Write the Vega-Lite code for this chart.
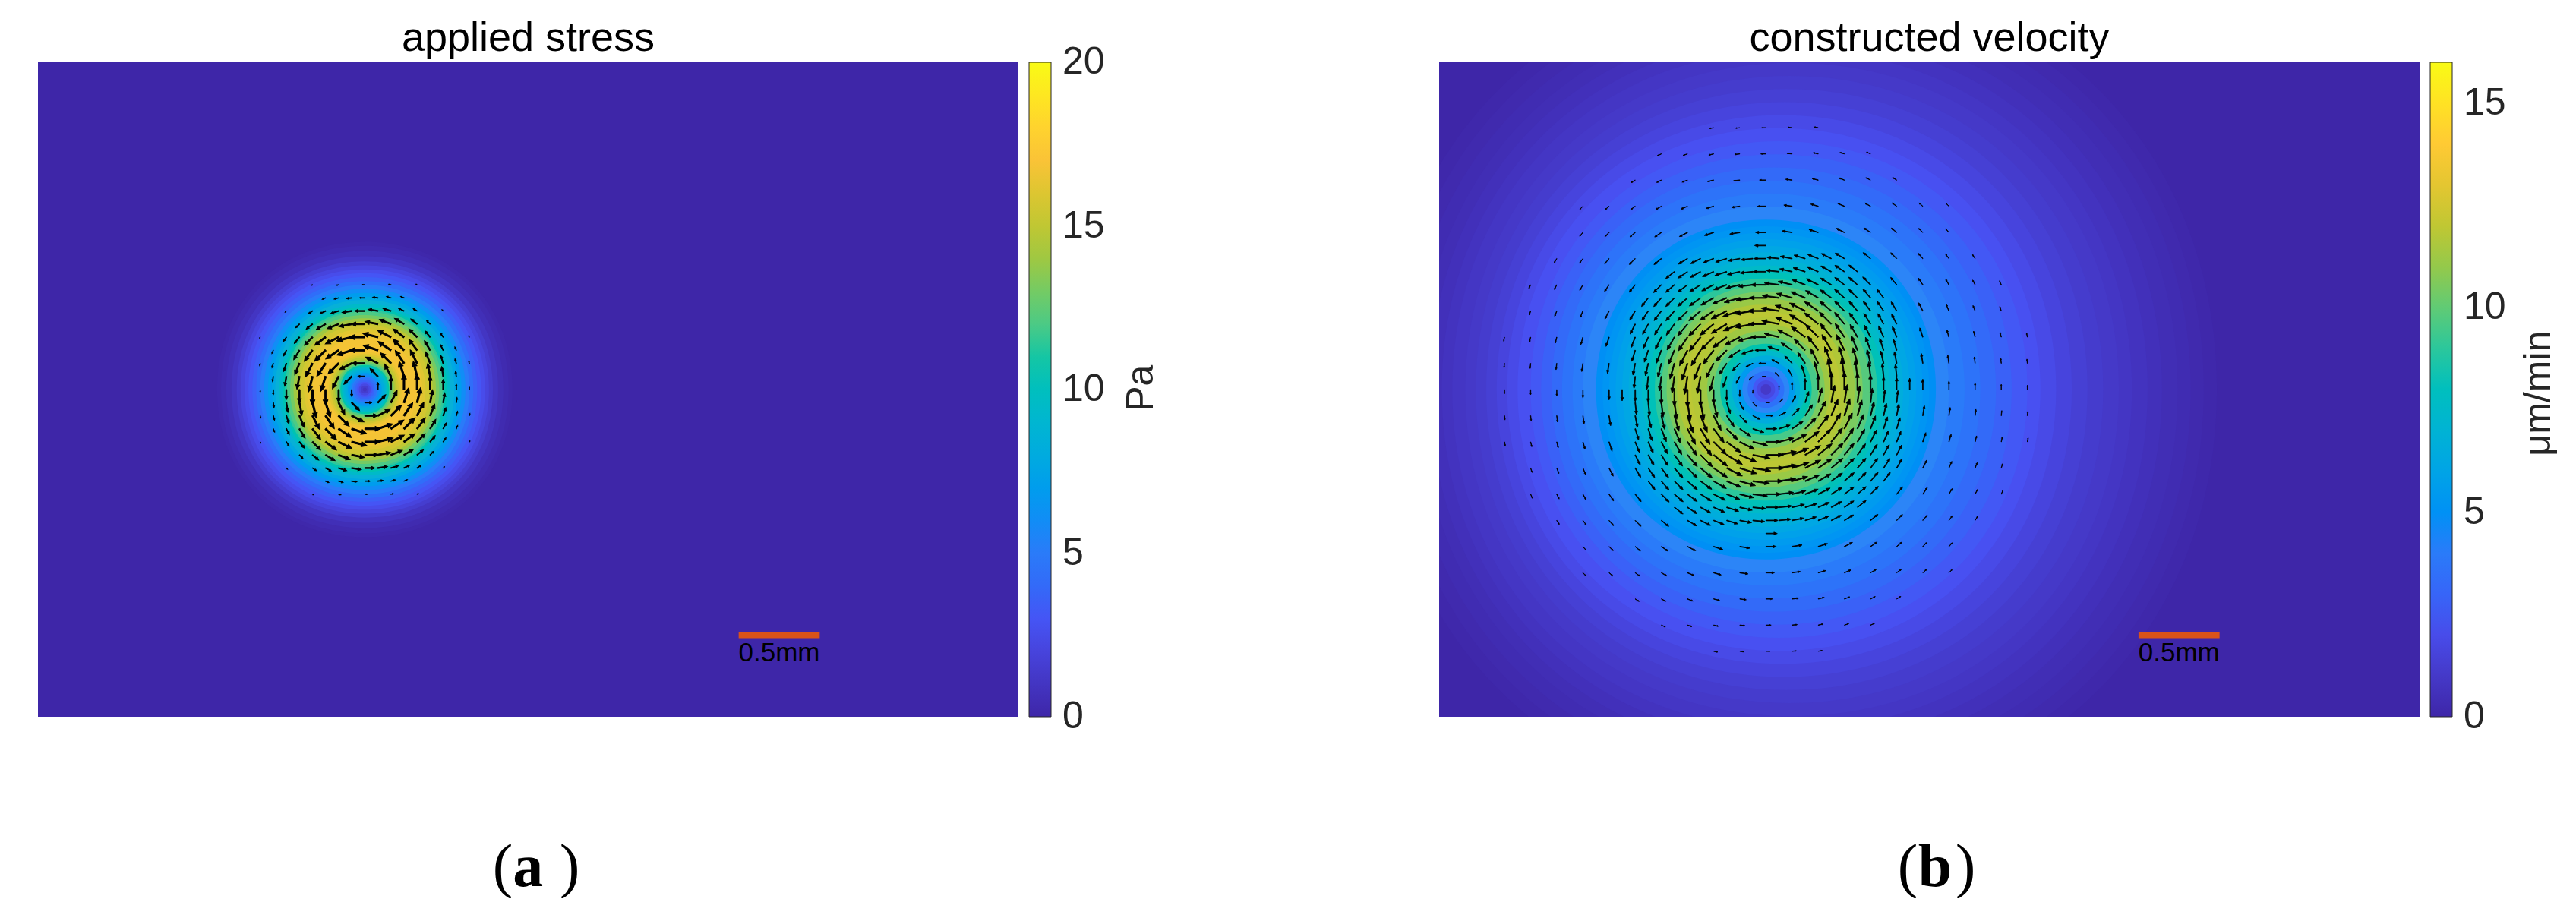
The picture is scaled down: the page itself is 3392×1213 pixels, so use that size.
{"$schema":"https://vega.github.io/schema/vega-lite/v6.json","padding":{"left":50,"top":24,"right":0,"bottom":0},"background":"white","spacing":367,
"resolve":{"scale":{"color":"independent","size":"independent"},"legend":{"color":"independent"}},
"config":{"view":{"stroke":null},"title":{"font":"Liberation Sans","fontSize":54,"fontWeight":"normal","color":"#000000","anchor":"middle","offset":4,"baseline":"alphabetic"}},
"hconcat":[
{"title":"applied stress","width":1291,"height":862,"view":{"fill":"#3e26a8","stroke":null},
"layer":[
{"data":{"values":[{"i":25,"j":25,"r":11.3,"v":0.1},{"i":25,"j":25,"r":11,"v":0.3},{"i":25,"j":25,"r":10.6,"v":0.6},{"i":25,"j":25,"r":10.2,"v":1},{"i":25,"j":25,"r":9.8,"v":1.5},{"i":25,"j":25,"r":9.5,"v":2},{"i":25,"j":25,"r":9.2,"v":2.5},{"i":25,"j":25,"r":8.9,"v":3},{"i":25,"j":25,"r":8.6,"v":3.5},{"i":25,"j":25,"r":8.3,"v":4.2},{"i":25,"j":25,"r":8,"v":5},{"i":25,"j":25,"r":7.7,"v":6},{"i":25,"j":25,"r":7.4,"v":7},{"i":25,"j":25,"r":7.1,"v":7.8},{"i":25,"j":25,"r":6.85,"v":8.5},{"i":25,"j":25,"r":6.55,"v":9.5},{"i":25,"j":25,"r":6.3,"v":10.5},{"i":25,"j":25,"r":6.1,"v":11.3},{"i":25,"j":25,"r":5.95,"v":12},{"i":25,"j":25,"r":5.7,"v":13},{"i":25,"j":25,"r":5.45,"v":14},{"i":25,"j":25,"r":5.2,"v":15},{"i":25,"j":25,"r":4.95,"v":15.6},{"i":25,"j":25,"r":4.65,"v":16.1},{"i":25,"j":25,"r":4.4,"v":16.5},{"i":25,"j":25,"r":4,"v":16.8},{"i":25,"j":25,"r":3.4,"v":16.9},{"i":25,"j":25,"r":2.9,"v":16.6},{"i":25,"j":25,"r":2.75,"v":16.1},{"i":25,"j":25,"r":2.6,"v":15.5},{"i":25,"j":25,"r":2.45,"v":14.8},{"i":25,"j":25,"r":2.3,"v":14},{"i":25,"j":25,"r":2.15,"v":13},{"i":25,"j":25,"r":2,"v":12},{"i":25,"j":25,"r":1.87,"v":10.8},{"i":25,"j":25,"r":1.75,"v":9.5},{"i":25,"j":25,"r":1.6,"v":8.7},{"i":25,"j":25,"r":1.45,"v":8},{"i":25,"j":25,"r":1.3,"v":7},{"i":25,"j":25,"r":1.15,"v":6},{"i":25,"j":25,"r":1,"v":5},{"i":25,"j":25,"r":0.9,"v":4.5},{"i":25,"j":25,"r":0.75,"v":3.7},{"i":25,"j":25,"r":0.6,"v":3},{"i":25,"j":25,"r":0.45,"v":2.2},{"i":25,"j":25,"r":0.3,"v":1.5},{"i":25,"j":25,"r":0.15,"v":1}]},
"mark":{"type":"point","filled":true,"opacity":1,"strokeWidth":0,"clip":true,"shape":"M1,0C1,.59 .59,1 0,1C-.59,1 -1,.59 -1,0C-1,-.59 -.59,-1 0,-1C.59,-1 1,-.59 1,0Z"},
"encoding":{"x":{"field":"i","type":"quantitative","scale":{"domain":[0,75],"nice":false,"zero":false},"axis":null},"y":{"field":"j","type":"quantitative","scale":{"domain":[0,50],"nice":false,"zero":false},"axis":null},
"size":{"field":"r","type":"quantitative","legend":null,"scale":{"type":"pow","exponent":2,"domain":[0,40],"range":[0,1895578]}},
"color":{"field":"v","type":"quantitative","scale":{"domain":[0,2.857,5.714,8.571,11.429,14.286,17.143,20],"range":["#3e26a8","#4852f4","#2d87f7","#12b1d6","#37c897","#abc739","#fec338","#f9fb15"]},
"legend":{"title":null,"values":[0,5,10,15,20],"orient":"none","legendX":1305,"legendY":0,"padding":0,"gradientLength":862,"gradientThickness":29,"gradientStrokeColor":"#262626","gradientStrokeWidth":1,"labelFont":"Liberation Sans","labelFontSize":50,"labelColor":"#262626","labelOffset":15,"labelOverlap":false,"encoding":{"labels":{"baseline":{"value":"middle"}}}}}}},
{"data":{"values":[
{"i":26,"j":25,"a":0,"r":0.55},{"i":25,"j":26,"a":270,"r":0.55},{"i":24,"j":25,"a":180,"r":0.55},{"i":25,"j":24,"a":90,"r":0.55},
{"i":27,"j":25,"a":0,"r":1},{"i":25,"j":27,"a":270,"r":1},{"i":23,"j":25,"a":180,"r":1},{"i":25,"j":23,"a":90,"r":1},
{"i":28,"j":25,"a":0,"r":1.2},{"i":25,"j":28,"a":270,"r":1.2},{"i":22,"j":25,"a":180,"r":1.2},{"i":25,"j":22,"a":90,"r":1.2},
{"i":29,"j":25,"a":0,"r":1.2},{"i":25,"j":29,"a":270,"r":1.2},{"i":21,"j":25,"a":180,"r":1.2},{"i":25,"j":21,"a":90,"r":1.2},
{"i":30,"j":25,"a":0,"r":1.05},{"i":25,"j":30,"a":270,"r":1.05},{"i":20,"j":25,"a":180,"r":1.05},{"i":25,"j":20,"a":90,"r":1.05},
{"i":31,"j":25,"a":0,"r":0.78},{"i":25,"j":31,"a":270,"r":0.78},{"i":19,"j":25,"a":180,"r":0.78},{"i":25,"j":19,"a":90,"r":0.78},
{"i":32,"j":25,"a":0,"r":0.42},{"i":25,"j":32,"a":270,"r":0.42},{"i":18,"j":25,"a":180,"r":0.42},{"i":25,"j":18,"a":90,"r":0.42},
{"i":33,"j":25,"a":0,"r":0.2},{"i":25,"j":33,"a":270,"r":0.2},{"i":17,"j":25,"a":180,"r":0.2},{"i":25,"j":17,"a":90,"r":0.2},
{"i":26,"j":26,"a":315,"r":0.85},{"i":24,"j":26,"a":225,"r":0.85},{"i":24,"j":24,"a":135,"r":0.85},{"i":26,"j":24,"a":45,"r":0.85},
{"i":27,"j":26,"a":333,"r":1.05},{"i":23,"j":26,"a":207,"r":1.05},{"i":23,"j":24,"a":153,"r":1.05},{"i":27,"j":24,"a":27,"r":1.05},
{"i":26,"j":27,"a":297,"r":1.05},{"i":24,"j":27,"a":243,"r":1.05},{"i":24,"j":23,"a":117,"r":1.05},{"i":26,"j":23,"a":63,"r":1.05},
{"i":27,"j":27,"a":315,"r":1.15},{"i":23,"j":27,"a":225,"r":1.15},{"i":23,"j":23,"a":135,"r":1.15},{"i":27,"j":23,"a":45,"r":1.15},
{"i":28,"j":26,"a":342,"r":1.2},{"i":22,"j":26,"a":198,"r":1.2},{"i":22,"j":24,"a":162,"r":1.2},{"i":28,"j":24,"a":18,"r":1.2},
{"i":26,"j":28,"a":288,"r":1.2},{"i":24,"j":28,"a":252,"r":1.2},{"i":24,"j":22,"a":108,"r":1.2},{"i":26,"j":22,"a":72,"r":1.2},
{"i":28,"j":27,"a":326,"r":1.2},{"i":22,"j":27,"a":214,"r":1.2},{"i":22,"j":23,"a":146,"r":1.2},{"i":28,"j":23,"a":34,"r":1.2},
{"i":27,"j":28,"a":304,"r":1.2},{"i":23,"j":28,"a":236,"r":1.2},{"i":23,"j":22,"a":124,"r":1.2},{"i":27,"j":22,"a":56,"r":1.2},
{"i":28,"j":28,"a":315,"r":1.2},{"i":22,"j":28,"a":225,"r":1.2},{"i":22,"j":22,"a":135,"r":1.2},{"i":28,"j":22,"a":45,"r":1.2},
{"i":29,"j":26,"a":346,"r":1.2},{"i":21,"j":26,"a":194,"r":1.2},{"i":21,"j":24,"a":166,"r":1.2},{"i":29,"j":24,"a":14,"r":1.2},
{"i":26,"j":29,"a":284,"r":1.2},{"i":24,"j":29,"a":256,"r":1.2},{"i":24,"j":21,"a":104,"r":1.2},{"i":26,"j":21,"a":76,"r":1.2},
{"i":29,"j":27,"a":333,"r":1.15},{"i":21,"j":27,"a":207,"r":1.15},{"i":21,"j":23,"a":153,"r":1.15},{"i":29,"j":23,"a":27,"r":1.15},
{"i":27,"j":29,"a":297,"r":1.15},{"i":23,"j":29,"a":243,"r":1.15},{"i":23,"j":21,"a":117,"r":1.15},{"i":27,"j":21,"a":63,"r":1.15},
{"i":29,"j":28,"a":323,"r":1.05},{"i":21,"j":28,"a":217,"r":1.05},{"i":21,"j":22,"a":143,"r":1.05},{"i":29,"j":22,"a":37,"r":1.05},
{"i":28,"j":29,"a":307,"r":1.05},{"i":22,"j":29,"a":233,"r":1.05},{"i":22,"j":21,"a":127,"r":1.05},{"i":28,"j":21,"a":53,"r":1.05},
{"i":29,"j":29,"a":315,"r":0.88},{"i":21,"j":29,"a":225,"r":0.88},{"i":21,"j":21,"a":135,"r":0.88},{"i":29,"j":21,"a":45,"r":0.88},
{"i":30,"j":26,"a":349,"r":1},{"i":20,"j":26,"a":191,"r":1},{"i":20,"j":24,"a":169,"r":1},{"i":30,"j":24,"a":11,"r":1},
{"i":26,"j":30,"a":281,"r":1},{"i":24,"j":30,"a":259,"r":1},{"i":24,"j":20,"a":101,"r":1},{"i":26,"j":20,"a":79,"r":1},
{"i":30,"j":27,"a":338,"r":0.95},{"i":20,"j":27,"a":202,"r":0.95},{"i":20,"j":23,"a":158,"r":0.95},{"i":30,"j":23,"a":22,"r":0.95},
{"i":27,"j":30,"a":292,"r":0.95},{"i":23,"j":30,"a":248,"r":0.95},{"i":23,"j":20,"a":112,"r":0.95},{"i":27,"j":20,"a":68,"r":0.95},
{"i":30,"j":28,"a":329,"r":0.85},{"i":20,"j":28,"a":211,"r":0.85},{"i":20,"j":22,"a":149,"r":0.85},{"i":30,"j":22,"a":31,"r":0.85},
{"i":28,"j":30,"a":301,"r":0.85},{"i":22,"j":30,"a":239,"r":0.85},{"i":22,"j":20,"a":121,"r":0.85},{"i":28,"j":20,"a":59,"r":0.85},
{"i":30,"j":29,"a":321,"r":0.62},{"i":20,"j":29,"a":219,"r":0.62},{"i":20,"j":21,"a":141,"r":0.62},{"i":30,"j":21,"a":39,"r":0.62},
{"i":29,"j":30,"a":309,"r":0.62},{"i":21,"j":30,"a":231,"r":0.62},{"i":21,"j":20,"a":129,"r":0.62},{"i":29,"j":20,"a":51,"r":0.62},
{"i":30,"j":30,"a":315,"r":0.4},{"i":20,"j":30,"a":225,"r":0.4},{"i":20,"j":20,"a":135,"r":0.4},{"i":30,"j":20,"a":45,"r":0.4},
{"i":31,"j":26,"a":351,"r":0.75},{"i":19,"j":26,"a":189,"r":0.75},{"i":19,"j":24,"a":171,"r":0.75},{"i":31,"j":24,"a":9,"r":0.75},
{"i":26,"j":31,"a":279,"r":0.75},{"i":24,"j":31,"a":261,"r":0.75},{"i":24,"j":19,"a":99,"r":0.75},{"i":26,"j":19,"a":81,"r":0.75},
{"i":31,"j":27,"a":342,"r":0.65},{"i":19,"j":27,"a":198,"r":0.65},{"i":19,"j":23,"a":162,"r":0.65},{"i":31,"j":23,"a":18,"r":0.65},
{"i":27,"j":31,"a":288,"r":0.65},{"i":23,"j":31,"a":252,"r":0.65},{"i":23,"j":19,"a":108,"r":0.65},{"i":27,"j":19,"a":72,"r":0.65},
{"i":31,"j":28,"a":333,"r":0.5},{"i":19,"j":28,"a":207,"r":0.5},{"i":19,"j":22,"a":153,"r":0.5},{"i":31,"j":22,"a":27,"r":0.5},
{"i":28,"j":31,"a":297,"r":0.5},{"i":22,"j":31,"a":243,"r":0.5},{"i":22,"j":19,"a":117,"r":0.5},{"i":28,"j":19,"a":63,"r":0.5},
{"i":31,"j":29,"a":326,"r":0.38},{"i":19,"j":29,"a":214,"r":0.38},{"i":19,"j":21,"a":146,"r":0.38},{"i":31,"j":21,"a":34,"r":0.38},
{"i":29,"j":31,"a":304,"r":0.38},{"i":21,"j":31,"a":236,"r":0.38},{"i":21,"j":19,"a":124,"r":0.38},{"i":29,"j":19,"a":56,"r":0.38},
{"i":32,"j":26,"a":352,"r":0.4},{"i":18,"j":26,"a":188,"r":0.4},{"i":18,"j":24,"a":172,"r":0.4},{"i":32,"j":24,"a":8,"r":0.4},
{"i":26,"j":32,"a":278,"r":0.4},{"i":24,"j":32,"a":262,"r":0.4},{"i":24,"j":18,"a":98,"r":0.4},{"i":26,"j":18,"a":82,"r":0.4},
{"i":32,"j":27,"a":344,"r":0.36},{"i":18,"j":27,"a":196,"r":0.36},{"i":18,"j":23,"a":164,"r":0.36},{"i":32,"j":23,"a":16,"r":0.36},
{"i":27,"j":32,"a":286,"r":0.36},{"i":23,"j":32,"a":254,"r":0.36},{"i":23,"j":18,"a":106,"r":0.36},{"i":27,"j":18,"a":74,"r":0.36},
{"i":32,"j":28,"a":337,"r":0.28},{"i":18,"j":28,"a":203,"r":0.28},{"i":18,"j":22,"a":157,"r":0.28},{"i":32,"j":22,"a":23,"r":0.28},
{"i":28,"j":32,"a":293,"r":0.28},{"i":22,"j":32,"a":247,"r":0.28},{"i":22,"j":18,"a":113,"r":0.28},{"i":28,"j":18,"a":67,"r":0.28},
{"i":33,"j":27,"a":346,"r":0.18},{"i":17,"j":27,"a":194,"r":0.18},{"i":17,"j":23,"a":166,"r":0.18},{"i":33,"j":23,"a":14,"r":0.18},
{"i":27,"j":33,"a":284,"r":0.18},{"i":23,"j":33,"a":256,"r":0.18},{"i":23,"j":17,"a":104,"r":0.18},{"i":27,"j":17,"a":76,"r":0.18},
{"i":31,"j":31,"a":315,"r":0.14},{"i":19,"j":31,"a":225,"r":0.14},{"i":19,"j":19,"a":135,"r":0.14},{"i":31,"j":19,"a":45,"r":0.14},
{"i":33,"j":29,"a":333,"r":0.1},{"i":17,"j":29,"a":207,"r":0.1},{"i":17,"j":21,"a":153,"r":0.1},{"i":33,"j":21,"a":27,"r":0.1},
{"i":29,"j":33,"a":297,"r":0.1},{"i":21,"j":33,"a":243,"r":0.1},{"i":21,"j":17,"a":117,"r":0.1},{"i":29,"j":17,"a":63,"r":0.1}
]},
"mark":{"type":"point","filled":true,"opacity":1,"fill":"#000000","stroke":"#000000","strokeWidth":1,"clip":true,"shape":"M-.05,0L-.05,-.66L-.16,-.66L0,-1L.16,-.66L.05,-.66L.05,0Z"},
"encoding":{"x":{"field":"i","type":"quantitative"},"y":{"field":"j","type":"quantitative"},"size":{"field":"r","type":"quantitative","legend":null},"angle":{"field":"a","type":"quantitative","scale":null}}},
{"data":{"values":[{"x":53.6,"x2":59.8,"y":6,"y2":6.5}]},"mark":{"type":"rect","color":"#d95319"},"encoding":{"x":{"field":"x","type":"quantitative"},"x2":{"field":"x2"},"y":{"field":"y","type":"quantitative"},"y2":{"field":"y2"}}},
{"data":{"values":[{"x":56.7,"y":4.87,"t":"0.5mm"}]},"mark":{"type":"text","font":"Liberation Sans","fontSize":35,"color":"#000000","baseline":"middle"},"encoding":{"x":{"field":"x","type":"quantitative"},"y":{"field":"y","type":"quantitative"},"text":{"field":"t"}}},
{"data":{"values":[{"x":84.4,"y":25.1,"t":"Pa"}]},"mark":{"type":"text","font":"Liberation Sans","fontSize":50,"color":"#262626","angle":270,"baseline":"middle","clip":false},"encoding":{"x":{"field":"x","type":"quantitative"},"y":{"field":"y","type":"quantitative"},"text":{"field":"t"}}},
{"data":{"values":[{"x":35.56,"y":-12.93,"t":"("},{"x":40.67,"y":-12.93,"t":")"}]},"mark":{"type":"text","font":"Liberation Serif","fontSize":80,"color":"#000000","baseline":"alphabetic"},"encoding":{"x":{"field":"x","type":"quantitative"},"y":{"field":"y","type":"quantitative"},"text":{"field":"t"}}},
{"data":{"values":[{"x":37.48,"y":-12.93,"t":"a"}]},"mark":{"type":"text","font":"Liberation Serif","fontWeight":"bold","fontSize":80,"color":"#000000","baseline":"alphabetic"},"encoding":{"x":{"field":"x","type":"quantitative"},"y":{"field":"y","type":"quantitative"},"text":{"field":"t"}}}
]},
{"title":"constructed velocity","width":1291,"height":862,"view":{"fill":"#3e26a8","stroke":null},
"layer":[
{"data":{"values":[{"i":27.5,"j":25,"r":32,"v":0.1},{"i":27.5,"j":25,"r":31,"v":0.2},{"i":27.5,"j":25,"r":30,"v":0.3},{"i":27.5,"j":25,"r":29,"v":0.4},{"i":27.3,"j":25,"r":28,"v":0.55},{"i":27.2,"j":25,"r":27,"v":0.7},{"i":27,"j":25,"r":26,"v":0.85},{"i":27,"j":25,"r":25,"v":1},{"i":26.8,"j":25,"r":24,"v":1.15},{"i":26.6,"j":25,"r":23,"v":1.35},{"i":26.4,"j":25,"r":22,"v":1.6},{"i":26.2,"j":25,"r":21,"v":1.9},{"i":26,"j":25,"r":20,"v":2.2},{"i":26,"j":25,"r":19,"v":2.5},{"i":25.8,"j":25,"r":18,"v":2.85},{"i":25.6,"j":25,"r":17,"v":3.2},{"i":25.4,"j":25,"r":16,"v":3.6},{"i":25.2,"j":25,"r":15,"v":4},{"i":25,"j":25,"r":14,"v":4.45},{"i":25,"j":25,"r":13,"v":4.9},{"i":25,"j":25,"r":12.5,"v":5.2},{"i":25,"j":25,"r":12,"v":5.5},{"i":25,"j":25,"r":11.5,"v":5.8},{"i":25,"j":25,"r":11,"v":6.15},{"i":25,"j":25,"r":10.5,"v":6.55},{"i":25,"j":25,"r":10,"v":7},{"i":25,"j":25,"r":9.5,"v":7.6},{"i":25,"j":25,"r":9,"v":8.2},{"i":25,"j":25,"r":8.5,"v":9},{"i":25,"j":25,"r":8,"v":9.8},{"i":24.9,"j":25,"r":7.5,"v":10.5},{"i":24.8,"j":25,"r":7,"v":11.1},{"i":24.7,"j":25,"r":6.5,"v":11.6},{"i":24.7,"j":25,"r":6,"v":11.9},{"i":24.8,"j":25,"r":5.5,"v":11.7},{"i":24.9,"j":25,"r":5,"v":11.2},{"i":25,"j":25,"r":4.5,"v":10.5},{"i":25,"j":25,"r":4,"v":9.5},{"i":25,"j":25,"r":3.5,"v":8.5},{"i":25,"j":25,"r":3,"v":7.5},{"i":25,"j":25,"r":2.6,"v":6.5},{"i":25,"j":25,"r":2.2,"v":5.5},{"i":25,"j":25,"r":1.8,"v":4.5},{"i":25,"j":25,"r":1.4,"v":3.5},{"i":25,"j":25,"r":1,"v":2.5},{"i":25,"j":25,"r":0.7,"v":1.8},{"i":25,"j":25,"r":0.4,"v":1}]},
"mark":{"type":"point","filled":true,"opacity":1,"strokeWidth":0,"clip":true,"shape":"M1,0C1,.58 .58,1 0,1C-.58,1 -1,.58 -1,0C-1,-.58 -.58,-1 0,-1C.58,-1 1,-.58 1,0Z"},
"encoding":{"x":{"field":"i","type":"quantitative","scale":{"domain":[0,75],"nice":false,"zero":false},"axis":null},"y":{"field":"j","type":"quantitative","scale":{"domain":[0,50],"nice":false,"zero":false},"axis":null},
"size":{"field":"r","type":"quantitative","legend":null,"scale":{"type":"pow","exponent":2,"domain":[0,40],"range":[0,1895578]}},
"color":{"field":"v","type":"quantitative","scale":{"domain":[0,2.286,4.571,6.857,9.143,11.429,13.714,16],"range":["#3e26a8","#4852f4","#2d87f7","#12b1d6","#37c897","#abc739","#fec338","#f9fb15"]},
"legend":{"title":null,"values":[0,5,10,15],"orient":"none","legendX":1305,"legendY":0,"padding":0,"gradientLength":862,"gradientThickness":29,"gradientStrokeColor":"#262626","gradientStrokeWidth":1,"labelFont":"Liberation Sans","labelFontSize":50,"labelColor":"#262626","labelOffset":15,"labelOverlap":false,"encoding":{"labels":{"baseline":{"value":"middle"}}}}}}},
{"data":{"values":[
{"i":26,"j":25,"a":0,"r":0.3},{"i":25,"j":26,"a":270,"r":0.3},{"i":24,"j":25,"a":180,"r":0.3},{"i":25,"j":24,"a":90,"r":0.3},
{"i":27,"j":25,"a":0,"r":0.55},{"i":25,"j":27,"a":270,"r":0.55},{"i":23,"j":25,"a":180,"r":0.55},{"i":25,"j":23,"a":90,"r":0.55},
{"i":28,"j":25,"a":0,"r":0.85},{"i":25,"j":28,"a":270,"r":0.85},{"i":22,"j":25,"a":180,"r":0.85},{"i":25,"j":22,"a":90,"r":0.85},
{"i":29,"j":25,"a":0,"r":1.15},{"i":25,"j":29,"a":270,"r":1.15},{"i":21,"j":25,"a":180,"r":1.15},{"i":25,"j":21,"a":90,"r":1.15},
{"i":30,"j":25,"a":0,"r":1.35},{"i":25,"j":30,"a":270,"r":1.35},{"i":20,"j":25,"a":180,"r":1.35},{"i":25,"j":20,"a":90,"r":1.35},
{"i":31,"j":25,"a":0,"r":1.4},{"i":25,"j":31,"a":270,"r":1.4},{"i":19,"j":25,"a":180,"r":1.4},{"i":25,"j":19,"a":90,"r":1.4},
{"i":32,"j":25,"a":0,"r":1.3},{"i":25,"j":32,"a":270,"r":1.3},{"i":18,"j":25,"a":180,"r":1.3},{"i":25,"j":18,"a":90,"r":1.3},
{"i":33,"j":25,"a":0,"r":1.15},{"i":25,"j":33,"a":270,"r":1.15},{"i":17,"j":25,"a":180,"r":1.15},{"i":25,"j":17,"a":90,"r":1.15},
{"i":26,"j":26,"a":315,"r":0.42},{"i":24,"j":26,"a":225,"r":0.42},{"i":24,"j":24,"a":135,"r":0.42},{"i":26,"j":24,"a":45,"r":0.42},
{"i":27,"j":26,"a":333,"r":0.62},{"i":23,"j":26,"a":207,"r":0.62},{"i":23,"j":24,"a":153,"r":0.62},{"i":27,"j":24,"a":27,"r":0.62},
{"i":26,"j":27,"a":297,"r":0.62},{"i":24,"j":27,"a":243,"r":0.62},{"i":24,"j":23,"a":117,"r":0.62},{"i":26,"j":23,"a":63,"r":0.62},
{"i":27,"j":27,"a":315,"r":0.8},{"i":23,"j":27,"a":225,"r":0.8},{"i":23,"j":23,"a":135,"r":0.8},{"i":27,"j":23,"a":45,"r":0.8},
{"i":28,"j":26,"a":342,"r":0.9},{"i":22,"j":26,"a":198,"r":0.9},{"i":22,"j":24,"a":162,"r":0.9},{"i":28,"j":24,"a":18,"r":0.9},
{"i":26,"j":28,"a":288,"r":0.9},{"i":24,"j":28,"a":252,"r":0.9},{"i":24,"j":22,"a":108,"r":0.9},{"i":26,"j":22,"a":72,"r":0.9},
{"i":28,"j":27,"a":326,"r":1.02},{"i":22,"j":27,"a":214,"r":1.02},{"i":22,"j":23,"a":146,"r":1.02},{"i":28,"j":23,"a":34,"r":1.02},
{"i":27,"j":28,"a":304,"r":1.02},{"i":23,"j":28,"a":236,"r":1.02},{"i":23,"j":22,"a":124,"r":1.02},{"i":27,"j":22,"a":56,"r":1.02},
{"i":28,"j":28,"a":315,"r":1.2},{"i":22,"j":28,"a":225,"r":1.2},{"i":22,"j":22,"a":135,"r":1.2},{"i":28,"j":22,"a":45,"r":1.2},
{"i":29,"j":26,"a":346,"r":1.17},{"i":21,"j":26,"a":194,"r":1.17},{"i":21,"j":24,"a":166,"r":1.17},{"i":29,"j":24,"a":14,"r":1.17},
{"i":26,"j":29,"a":284,"r":1.17},{"i":24,"j":29,"a":256,"r":1.17},{"i":24,"j":21,"a":104,"r":1.17},{"i":26,"j":21,"a":76,"r":1.17},
{"i":29,"j":27,"a":333,"r":1.27},{"i":21,"j":27,"a":207,"r":1.27},{"i":21,"j":23,"a":153,"r":1.27},{"i":29,"j":23,"a":27,"r":1.27},
{"i":27,"j":29,"a":297,"r":1.27},{"i":23,"j":29,"a":243,"r":1.27},{"i":23,"j":21,"a":117,"r":1.27},{"i":27,"j":21,"a":63,"r":1.27},
{"i":29,"j":28,"a":323,"r":1.35},{"i":21,"j":28,"a":217,"r":1.35},{"i":21,"j":22,"a":143,"r":1.35},{"i":29,"j":22,"a":37,"r":1.35},
{"i":28,"j":29,"a":307,"r":1.35},{"i":22,"j":29,"a":233,"r":1.35},{"i":22,"j":21,"a":127,"r":1.35},{"i":28,"j":21,"a":53,"r":1.35},
{"i":29,"j":29,"a":315,"r":1.4},{"i":21,"j":29,"a":225,"r":1.4},{"i":21,"j":21,"a":135,"r":1.4},{"i":29,"j":21,"a":45,"r":1.4},
{"i":30,"j":26,"a":349,"r":1.36},{"i":20,"j":26,"a":191,"r":1.36},{"i":20,"j":24,"a":169,"r":1.36},{"i":30,"j":24,"a":11,"r":1.36},
{"i":26,"j":30,"a":281,"r":1.36},{"i":24,"j":30,"a":259,"r":1.36},{"i":24,"j":20,"a":101,"r":1.36},{"i":26,"j":20,"a":79,"r":1.36},
{"i":30,"j":27,"a":338,"r":1.38},{"i":20,"j":27,"a":202,"r":1.38},{"i":20,"j":23,"a":158,"r":1.38},{"i":30,"j":23,"a":22,"r":1.38},
{"i":27,"j":30,"a":292,"r":1.38},{"i":23,"j":30,"a":248,"r":1.38},{"i":23,"j":20,"a":112,"r":1.38},{"i":27,"j":20,"a":68,"r":1.38},
{"i":30,"j":28,"a":329,"r":1.4},{"i":20,"j":28,"a":211,"r":1.4},{"i":20,"j":22,"a":149,"r":1.4},{"i":30,"j":22,"a":31,"r":1.4},
{"i":28,"j":30,"a":301,"r":1.4},{"i":22,"j":30,"a":239,"r":1.4},{"i":22,"j":20,"a":121,"r":1.4},{"i":28,"j":20,"a":59,"r":1.4},
{"i":30,"j":29,"a":321,"r":1.37},{"i":20,"j":29,"a":219,"r":1.37},{"i":20,"j":21,"a":141,"r":1.37},{"i":30,"j":21,"a":39,"r":1.37},
{"i":29,"j":30,"a":309,"r":1.37},{"i":21,"j":30,"a":231,"r":1.37},{"i":21,"j":20,"a":129,"r":1.37},{"i":29,"j":20,"a":51,"r":1.37},
{"i":30,"j":30,"a":315,"r":1.3},{"i":20,"j":30,"a":225,"r":1.3},{"i":20,"j":20,"a":135,"r":1.3},{"i":30,"j":20,"a":45,"r":1.3},
{"i":31,"j":26,"a":351,"r":1.4},{"i":19,"j":26,"a":189,"r":1.4},{"i":19,"j":24,"a":171,"r":1.4},{"i":31,"j":24,"a":9,"r":1.4},
{"i":26,"j":31,"a":279,"r":1.4},{"i":24,"j":31,"a":261,"r":1.4},{"i":24,"j":19,"a":99,"r":1.4},{"i":26,"j":19,"a":81,"r":1.4},
{"i":31,"j":27,"a":342,"r":1.38},{"i":19,"j":27,"a":198,"r":1.38},{"i":19,"j":23,"a":162,"r":1.38},{"i":31,"j":23,"a":18,"r":1.38},
{"i":27,"j":31,"a":288,"r":1.38},{"i":23,"j":31,"a":252,"r":1.38},{"i":23,"j":19,"a":108,"r":1.38},{"i":27,"j":19,"a":72,"r":1.38},
{"i":31,"j":28,"a":333,"r":1.35},{"i":19,"j":28,"a":207,"r":1.35},{"i":19,"j":22,"a":153,"r":1.35},{"i":31,"j":22,"a":27,"r":1.35},
{"i":28,"j":31,"a":297,"r":1.35},{"i":22,"j":31,"a":243,"r":1.35},{"i":22,"j":19,"a":117,"r":1.35},{"i":28,"j":19,"a":63,"r":1.35},
{"i":31,"j":29,"a":326,"r":1.27},{"i":19,"j":29,"a":214,"r":1.27},{"i":19,"j":21,"a":146,"r":1.27},{"i":31,"j":21,"a":34,"r":1.27},
{"i":29,"j":31,"a":304,"r":1.27},{"i":21,"j":31,"a":236,"r":1.27},{"i":21,"j":19,"a":124,"r":1.27},{"i":29,"j":19,"a":56,"r":1.27},
{"i":31,"j":30,"a":320,"r":1.17},{"i":19,"j":30,"a":220,"r":1.17},{"i":19,"j":20,"a":140,"r":1.17},{"i":31,"j":20,"a":40,"r":1.17},
{"i":30,"j":31,"a":310,"r":1.17},{"i":20,"j":31,"a":230,"r":1.17},{"i":20,"j":19,"a":130,"r":1.17},{"i":30,"j":19,"a":50,"r":1.17},
{"i":31,"j":31,"a":315,"r":1.07},{"i":19,"j":31,"a":225,"r":1.07},{"i":19,"j":19,"a":135,"r":1.07},{"i":31,"j":19,"a":45,"r":1.07},
{"i":32,"j":26,"a":352,"r":1.3},{"i":18,"j":26,"a":188,"r":1.3},{"i":18,"j":24,"a":172,"r":1.3},{"i":32,"j":24,"a":8,"r":1.3},
{"i":26,"j":32,"a":278,"r":1.3},{"i":24,"j":32,"a":262,"r":1.3},{"i":24,"j":18,"a":98,"r":1.3},{"i":26,"j":18,"a":82,"r":1.3},
{"i":32,"j":27,"a":344,"r":1.25},{"i":18,"j":27,"a":196,"r":1.25},{"i":18,"j":23,"a":164,"r":1.25},{"i":32,"j":23,"a":16,"r":1.25},
{"i":27,"j":32,"a":286,"r":1.25},{"i":23,"j":32,"a":254,"r":1.25},{"i":23,"j":18,"a":106,"r":1.25},{"i":27,"j":18,"a":74,"r":1.25},
{"i":32,"j":28,"a":337,"r":1.2},{"i":18,"j":28,"a":203,"r":1.2},{"i":18,"j":22,"a":157,"r":1.2},{"i":32,"j":22,"a":23,"r":1.2},
{"i":28,"j":32,"a":293,"r":1.2},{"i":22,"j":32,"a":247,"r":1.2},{"i":22,"j":18,"a":113,"r":1.2},{"i":28,"j":18,"a":67,"r":1.2},
{"i":32,"j":29,"a":330,"r":1.13},{"i":18,"j":29,"a":210,"r":1.13},{"i":18,"j":21,"a":150,"r":1.13},{"i":32,"j":21,"a":30,"r":1.13},
{"i":29,"j":32,"a":300,"r":1.13},{"i":21,"j":32,"a":240,"r":1.13},{"i":21,"j":18,"a":120,"r":1.13},{"i":29,"j":18,"a":60,"r":1.13},
{"i":33,"j":26,"a":353,"r":1.13},{"i":17,"j":26,"a":187,"r":1.13},{"i":17,"j":24,"a":173,"r":1.13},{"i":33,"j":24,"a":7,"r":1.13},
{"i":26,"j":33,"a":277,"r":1.13},{"i":24,"j":33,"a":263,"r":1.13},{"i":24,"j":17,"a":97,"r":1.13},{"i":26,"j":17,"a":83,"r":1.13},
{"i":33,"j":27,"a":346,"r":1.1},{"i":17,"j":27,"a":194,"r":1.1},{"i":17,"j":23,"a":166,"r":1.1},{"i":33,"j":23,"a":14,"r":1.1},
{"i":27,"j":33,"a":284,"r":1.1},{"i":23,"j":33,"a":256,"r":1.1},{"i":23,"j":17,"a":104,"r":1.1},{"i":27,"j":17,"a":76,"r":1.1},
{"i":33,"j":29,"a":333,"r":1.03},{"i":17,"j":29,"a":207,"r":1.03},{"i":17,"j":21,"a":153,"r":1.03},{"i":33,"j":21,"a":27,"r":1.03},
{"i":29,"j":33,"a":297,"r":1.03},{"i":21,"j":33,"a":243,"r":1.03},{"i":21,"j":17,"a":117,"r":1.03},{"i":29,"j":17,"a":63,"r":1.03},
{"i":34,"j":25,"a":0,"r":1},{"i":25,"j":34,"a":270,"r":1},{"i":16,"j":25,"a":180,"r":1},{"i":25,"j":16,"a":90,"r":1},
{"i":36,"j":25,"a":0,"r":0.87},{"i":25,"j":36,"a":270,"r":0.87},{"i":14,"j":25,"a":180,"r":0.87},{"i":25,"j":14,"a":90,"r":0.87},
{"i":34,"j":26,"a":354,"r":1},{"i":16,"j":26,"a":186,"r":1},{"i":16,"j":24,"a":174,"r":1},{"i":34,"j":24,"a":6,"r":1},
{"i":26,"j":34,"a":276,"r":1},{"i":24,"j":34,"a":264,"r":1},{"i":24,"j":16,"a":96,"r":1},{"i":26,"j":16,"a":84,"r":1},
{"i":34,"j":27,"a":347,"r":0.98},{"i":16,"j":27,"a":193,"r":0.98},{"i":16,"j":23,"a":167,"r":0.98},{"i":34,"j":23,"a":13,"r":0.98},
{"i":27,"j":34,"a":283,"r":0.98},{"i":23,"j":34,"a":257,"r":0.98},{"i":23,"j":16,"a":103,"r":0.98},{"i":27,"j":16,"a":77,"r":0.98},
{"i":34,"j":28,"a":342,"r":0.97},{"i":16,"j":28,"a":198,"r":0.97},{"i":16,"j":22,"a":162,"r":0.97},{"i":34,"j":22,"a":18,"r":0.97},
{"i":28,"j":34,"a":288,"r":0.97},{"i":22,"j":34,"a":252,"r":0.97},{"i":22,"j":16,"a":108,"r":0.97},{"i":28,"j":16,"a":72,"r":0.97},
{"i":34,"j":29,"a":336,"r":0.94},{"i":16,"j":29,"a":204,"r":0.94},{"i":16,"j":21,"a":156,"r":0.94},{"i":34,"j":21,"a":24,"r":0.94},
{"i":29,"j":34,"a":294,"r":0.94},{"i":21,"j":34,"a":246,"r":0.94},{"i":21,"j":16,"a":114,"r":0.94},{"i":29,"j":16,"a":66,"r":0.94},
{"i":34,"j":30,"a":331,"r":0.91},{"i":16,"j":30,"a":209,"r":0.91},{"i":16,"j":20,"a":151,"r":0.91},{"i":34,"j":20,"a":29,"r":0.91},
{"i":30,"j":34,"a":299,"r":0.91},{"i":20,"j":34,"a":241,"r":0.91},{"i":20,"j":16,"a":119,"r":0.91},{"i":30,"j":16,"a":61,"r":0.91},
{"i":34,"j":31,"a":326,"r":0.88},{"i":16,"j":31,"a":214,"r":0.88},{"i":16,"j":19,"a":146,"r":0.88},{"i":34,"j":19,"a":34,"r":0.88},
{"i":31,"j":34,"a":304,"r":0.88},{"i":19,"j":34,"a":236,"r":0.88},{"i":19,"j":16,"a":124,"r":0.88},{"i":31,"j":16,"a":56,"r":0.88},
{"i":34,"j":32,"a":322,"r":0.84},{"i":16,"j":32,"a":218,"r":0.84},{"i":16,"j":18,"a":142,"r":0.84},{"i":34,"j":18,"a":38,"r":0.84},
{"i":32,"j":34,"a":308,"r":0.84},{"i":18,"j":34,"a":232,"r":0.84},{"i":18,"j":16,"a":128,"r":0.84},{"i":32,"j":16,"a":52,"r":0.84},
{"i":33,"j":28,"a":339,"r":1.07},{"i":17,"j":28,"a":201,"r":1.07},{"i":17,"j":22,"a":159,"r":1.07},{"i":33,"j":22,"a":21,"r":1.07},
{"i":28,"j":33,"a":291,"r":1.07},{"i":22,"j":33,"a":249,"r":1.07},{"i":22,"j":17,"a":111,"r":1.07},{"i":28,"j":17,"a":69,"r":1.07},
{"i":33,"j":30,"a":328,"r":0.98},{"i":17,"j":30,"a":212,"r":0.98},{"i":17,"j":20,"a":148,"r":0.98},{"i":33,"j":20,"a":32,"r":0.98},
{"i":30,"j":33,"a":302,"r":0.98},{"i":20,"j":33,"a":238,"r":0.98},{"i":20,"j":17,"a":122,"r":0.98},{"i":30,"j":17,"a":58,"r":0.98},
{"i":33,"j":32,"a":319,"r":0.89},{"i":17,"j":32,"a":221,"r":0.89},{"i":17,"j":18,"a":139,"r":0.89},{"i":33,"j":18,"a":41,"r":0.89},
{"i":32,"j":33,"a":311,"r":0.89},{"i":18,"j":33,"a":229,"r":0.89},{"i":18,"j":17,"a":131,"r":0.89},{"i":32,"j":17,"a":49,"r":0.89},
{"i":32,"j":30,"a":324,"r":1.06},{"i":18,"j":30,"a":216,"r":1.06},{"i":18,"j":20,"a":144,"r":1.06},{"i":32,"j":20,"a":36,"r":1.06},
{"i":30,"j":32,"a":306,"r":1.06},{"i":20,"j":32,"a":234,"r":1.06},{"i":20,"j":18,"a":126,"r":1.06},{"i":30,"j":18,"a":54,"r":1.06},
{"i":32,"j":31,"a":319,"r":1},{"i":18,"j":31,"a":221,"r":1},{"i":18,"j":19,"a":139,"r":1},{"i":32,"j":19,"a":41,"r":1},
{"i":31,"j":32,"a":311,"r":1},{"i":19,"j":32,"a":229,"r":1},{"i":19,"j":18,"a":131,"r":1},{"i":31,"j":18,"a":49,"r":1},
{"i":32,"j":32,"a":315,"r":0.94},{"i":18,"j":32,"a":225,"r":0.94},{"i":18,"j":18,"a":135,"r":0.94},{"i":32,"j":18,"a":45,"r":0.94},
{"i":35,"j":26,"a":354,"r":0.93},{"i":15,"j":26,"a":186,"r":0.93},{"i":15,"j":24,"a":174,"r":0.93},{"i":35,"j":24,"a":6,"r":0.93},
{"i":26,"j":35,"a":276,"r":0.93},{"i":24,"j":35,"a":264,"r":0.93},{"i":24,"j":15,"a":96,"r":0.93},{"i":26,"j":15,"a":84,"r":0.93},
{"i":35,"j":28,"a":343,"r":0.9},{"i":15,"j":28,"a":197,"r":0.9},{"i":15,"j":22,"a":163,"r":0.9},{"i":35,"j":22,"a":17,"r":0.9},
{"i":28,"j":35,"a":287,"r":0.9},{"i":22,"j":35,"a":253,"r":0.9},{"i":22,"j":15,"a":107,"r":0.9},{"i":28,"j":15,"a":73,"r":0.9},
{"i":35,"j":30,"a":333,"r":0.86},{"i":15,"j":30,"a":207,"r":0.86},{"i":15,"j":20,"a":153,"r":0.86},{"i":35,"j":20,"a":27,"r":0.86},
{"i":30,"j":35,"a":297,"r":0.86},{"i":20,"j":35,"a":243,"r":0.86},{"i":20,"j":15,"a":117,"r":0.86},{"i":30,"j":15,"a":63,"r":0.86},
{"i":35,"j":25,"a":0,"r":0.93},{"i":25,"j":35,"a":270,"r":0.93},{"i":15,"j":25,"a":180,"r":0.93},{"i":25,"j":15,"a":90,"r":0.93},
{"i":37,"j":25,"a":0,"r":0.8},{"i":25,"j":37,"a":270,"r":0.8},{"i":13,"j":25,"a":180,"r":0.8},{"i":25,"j":13,"a":90,"r":0.8},
{"i":39,"j":25,"a":0,"r":0.65},{"i":25,"j":39,"a":270,"r":0.65},{"i":11,"j":25,"a":180,"r":0.65},{"i":25,"j":11,"a":90,"r":0.65},
{"i":41,"j":25,"a":0,"r":0.5},{"i":25,"j":41,"a":270,"r":0.5},{"i":9,"j":25,"a":180,"r":0.5},{"i":25,"j":9,"a":90,"r":0.5},
{"i":43,"j":25,"a":0,"r":0.4},{"i":25,"j":43,"a":270,"r":0.4},{"i":7,"j":25,"a":180,"r":0.4},{"i":25,"j":7,"a":90,"r":0.4},
{"i":45,"j":25,"a":0,"r":0.33},{"i":25,"j":45,"a":270,"r":0.33},{"i":5,"j":25,"a":180,"r":0.33},{"i":25,"j":5,"a":90,"r":0.33},
{"i":35,"j":27,"a":349,"r":0.92},{"i":15,"j":27,"a":191,"r":0.92},{"i":15,"j":23,"a":169,"r":0.92},{"i":35,"j":23,"a":11,"r":0.92},
{"i":27,"j":35,"a":281,"r":0.92},{"i":23,"j":35,"a":259,"r":0.92},{"i":23,"j":15,"a":101,"r":0.92},{"i":27,"j":15,"a":79,"r":0.92},
{"i":35,"j":29,"a":338,"r":0.88},{"i":15,"j":29,"a":202,"r":0.88},{"i":15,"j":21,"a":158,"r":0.88},{"i":35,"j":21,"a":22,"r":0.88},
{"i":29,"j":35,"a":292,"r":0.88},{"i":21,"j":35,"a":248,"r":0.88},{"i":21,"j":15,"a":112,"r":0.88},{"i":29,"j":15,"a":68,"r":0.88},
{"i":33,"j":31,"a":323,"r":0.93},{"i":17,"j":31,"a":217,"r":0.93},{"i":17,"j":19,"a":143,"r":0.93},{"i":33,"j":19,"a":37,"r":0.93},
{"i":31,"j":33,"a":307,"r":0.93},{"i":19,"j":33,"a":233,"r":0.93},{"i":19,"j":17,"a":127,"r":0.93},{"i":31,"j":17,"a":53,"r":0.93},
{"i":37,"j":27,"a":351,"r":0.78},{"i":13,"j":27,"a":189,"r":0.78},{"i":13,"j":23,"a":171,"r":0.78},{"i":37,"j":23,"a":9,"r":0.78},
{"i":27,"j":37,"a":279,"r":0.78},{"i":23,"j":37,"a":261,"r":0.78},{"i":23,"j":13,"a":99,"r":0.78},{"i":27,"j":13,"a":81,"r":0.78},
{"i":37,"j":29,"a":342,"r":0.75},{"i":13,"j":29,"a":198,"r":0.75},{"i":13,"j":21,"a":162,"r":0.75},{"i":37,"j":21,"a":18,"r":0.75},
{"i":29,"j":37,"a":288,"r":0.75},{"i":21,"j":37,"a":252,"r":0.75},{"i":21,"j":13,"a":108,"r":0.75},{"i":29,"j":13,"a":72,"r":0.75},
{"i":35,"j":31,"a":329,"r":0.82},{"i":15,"j":31,"a":211,"r":0.82},{"i":15,"j":19,"a":149,"r":0.82},{"i":35,"j":19,"a":31,"r":0.82},
{"i":31,"j":35,"a":301,"r":0.82},{"i":19,"j":35,"a":239,"r":0.82},{"i":19,"j":15,"a":121,"r":0.82},{"i":31,"j":15,"a":59,"r":0.82},
{"i":33,"j":33,"a":315,"r":0.85},{"i":17,"j":33,"a":225,"r":0.85},{"i":17,"j":17,"a":135,"r":0.85},{"i":33,"j":17,"a":45,"r":0.85},
{"i":37,"j":31,"a":333,"r":0.7},{"i":13,"j":31,"a":207,"r":0.7},{"i":13,"j":19,"a":153,"r":0.7},{"i":37,"j":19,"a":27,"r":0.7},
{"i":31,"j":37,"a":297,"r":0.7},{"i":19,"j":37,"a":243,"r":0.7},{"i":19,"j":13,"a":117,"r":0.7},{"i":31,"j":13,"a":63,"r":0.7},
{"i":35,"j":33,"a":321,"r":0.73},{"i":15,"j":33,"a":219,"r":0.73},{"i":15,"j":17,"a":141,"r":0.73},{"i":35,"j":17,"a":39,"r":0.73},
{"i":33,"j":35,"a":309,"r":0.73},{"i":17,"j":35,"a":231,"r":0.73},{"i":17,"j":15,"a":129,"r":0.73},{"i":33,"j":15,"a":51,"r":0.73},
{"i":35,"j":35,"a":315,"r":0.64},{"i":15,"j":35,"a":225,"r":0.64},{"i":15,"j":15,"a":135,"r":0.64},{"i":35,"j":15,"a":45,"r":0.64},
{"i":39,"j":27,"a":352,"r":0.64},{"i":11,"j":27,"a":188,"r":0.64},{"i":11,"j":23,"a":172,"r":0.64},{"i":39,"j":23,"a":8,"r":0.64},
{"i":27,"j":39,"a":278,"r":0.64},{"i":23,"j":39,"a":262,"r":0.64},{"i":23,"j":11,"a":98,"r":0.64},{"i":27,"j":11,"a":82,"r":0.64},
{"i":39,"j":29,"a":344,"r":0.6},{"i":11,"j":29,"a":196,"r":0.6},{"i":11,"j":21,"a":164,"r":0.6},{"i":39,"j":21,"a":16,"r":0.6},
{"i":29,"j":39,"a":286,"r":0.6},{"i":21,"j":39,"a":254,"r":0.6},{"i":21,"j":11,"a":106,"r":0.6},{"i":29,"j":11,"a":74,"r":0.6},
{"i":39,"j":31,"a":337,"r":0.56},{"i":11,"j":31,"a":203,"r":0.56},{"i":11,"j":19,"a":157,"r":0.56},{"i":39,"j":19,"a":23,"r":0.56},
{"i":31,"j":39,"a":293,"r":0.56},{"i":19,"j":39,"a":247,"r":0.56},{"i":19,"j":11,"a":113,"r":0.56},{"i":31,"j":11,"a":67,"r":0.56},
{"i":37,"j":33,"a":326,"r":0.62},{"i":13,"j":33,"a":214,"r":0.62},{"i":13,"j":17,"a":146,"r":0.62},{"i":37,"j":17,"a":34,"r":0.62},
{"i":33,"j":37,"a":304,"r":0.62},{"i":17,"j":37,"a":236,"r":0.62},{"i":17,"j":13,"a":124,"r":0.62},{"i":33,"j":13,"a":56,"r":0.62},
{"i":37,"j":35,"a":320,"r":0.53},{"i":13,"j":35,"a":220,"r":0.53},{"i":13,"j":15,"a":140,"r":0.53},{"i":37,"j":15,"a":40,"r":0.53},
{"i":35,"j":37,"a":310,"r":0.53},{"i":15,"j":37,"a":230,"r":0.53},{"i":15,"j":13,"a":130,"r":0.53},{"i":35,"j":13,"a":50,"r":0.53},
{"i":39,"j":33,"a":330,"r":0.5},{"i":11,"j":33,"a":210,"r":0.5},{"i":11,"j":17,"a":150,"r":0.5},{"i":39,"j":17,"a":30,"r":0.5},
{"i":33,"j":39,"a":300,"r":0.5},{"i":17,"j":39,"a":240,"r":0.5},{"i":17,"j":11,"a":120,"r":0.5},{"i":33,"j":11,"a":60,"r":0.5},
{"i":37,"j":37,"a":315,"r":0.45},{"i":13,"j":37,"a":225,"r":0.45},{"i":13,"j":13,"a":135,"r":0.45},{"i":37,"j":13,"a":45,"r":0.45},
{"i":39,"j":35,"a":324,"r":0.44},{"i":11,"j":35,"a":216,"r":0.44},{"i":11,"j":15,"a":144,"r":0.44},{"i":39,"j":15,"a":36,"r":0.44},
{"i":35,"j":39,"a":306,"r":0.44},{"i":15,"j":39,"a":234,"r":0.44},{"i":15,"j":11,"a":126,"r":0.44},{"i":35,"j":11,"a":54,"r":0.44},
{"i":41,"j":27,"a":353,"r":0.5},{"i":9,"j":27,"a":187,"r":0.5},{"i":9,"j":23,"a":173,"r":0.5},{"i":41,"j":23,"a":7,"r":0.5},
{"i":27,"j":41,"a":277,"r":0.5},{"i":23,"j":41,"a":263,"r":0.5},{"i":23,"j":9,"a":97,"r":0.5},{"i":27,"j":9,"a":83,"r":0.5},
{"i":41,"j":29,"a":346,"r":0.48},{"i":9,"j":29,"a":194,"r":0.48},{"i":9,"j":21,"a":166,"r":0.48},{"i":41,"j":21,"a":14,"r":0.48},
{"i":29,"j":41,"a":284,"r":0.48},{"i":21,"j":41,"a":256,"r":0.48},{"i":21,"j":9,"a":104,"r":0.48},{"i":29,"j":9,"a":76,"r":0.48},
{"i":41,"j":31,"a":339,"r":0.45},{"i":9,"j":31,"a":201,"r":0.45},{"i":9,"j":19,"a":159,"r":0.45},{"i":41,"j":19,"a":21,"r":0.45},
{"i":31,"j":41,"a":291,"r":0.45},{"i":19,"j":41,"a":249,"r":0.45},{"i":19,"j":9,"a":111,"r":0.45},{"i":31,"j":9,"a":69,"r":0.45},
{"i":41,"j":33,"a":333,"r":0.41},{"i":9,"j":33,"a":207,"r":0.41},{"i":9,"j":17,"a":153,"r":0.41},{"i":41,"j":17,"a":27,"r":0.41},
{"i":33,"j":41,"a":297,"r":0.41},{"i":17,"j":41,"a":243,"r":0.41},{"i":17,"j":9,"a":117,"r":0.41},{"i":33,"j":9,"a":63,"r":0.41},
{"i":41,"j":35,"a":328,"r":0.37},{"i":9,"j":35,"a":212,"r":0.37},{"i":9,"j":15,"a":148,"r":0.37},{"i":41,"j":15,"a":32,"r":0.37},
{"i":35,"j":41,"a":302,"r":0.37},{"i":15,"j":41,"a":238,"r":0.37},{"i":15,"j":9,"a":122,"r":0.37},{"i":35,"j":9,"a":58,"r":0.37},
{"i":39,"j":37,"a":319,"r":0.39},{"i":11,"j":37,"a":221,"r":0.39},{"i":11,"j":13,"a":139,"r":0.39},{"i":39,"j":13,"a":41,"r":0.39},
{"i":37,"j":39,"a":311,"r":0.39},{"i":13,"j":39,"a":229,"r":0.39},{"i":13,"j":11,"a":131,"r":0.39},{"i":37,"j":11,"a":49,"r":0.39},
{"i":39,"j":39,"a":315,"r":0.34},{"i":11,"j":39,"a":225,"r":0.34},{"i":11,"j":11,"a":135,"r":0.34},{"i":39,"j":11,"a":45,"r":0.34},
{"i":43,"j":27,"a":354,"r":0.4},{"i":7,"j":27,"a":186,"r":0.4},{"i":7,"j":23,"a":174,"r":0.4},{"i":43,"j":23,"a":6,"r":0.4},
{"i":27,"j":43,"a":276,"r":0.4},{"i":23,"j":43,"a":264,"r":0.4},{"i":23,"j":7,"a":96,"r":0.4},{"i":27,"j":7,"a":84,"r":0.4},
{"i":43,"j":29,"a":347,"r":0.39},{"i":7,"j":29,"a":193,"r":0.39},{"i":7,"j":21,"a":167,"r":0.39},{"i":43,"j":21,"a":13,"r":0.39},
{"i":29,"j":43,"a":283,"r":0.39},{"i":21,"j":43,"a":257,"r":0.39},{"i":21,"j":7,"a":103,"r":0.39},{"i":29,"j":7,"a":77,"r":0.39},
{"i":43,"j":31,"a":342,"r":0.36},{"i":7,"j":31,"a":198,"r":0.36},{"i":7,"j":19,"a":162,"r":0.36},{"i":43,"j":19,"a":18,"r":0.36},
{"i":31,"j":43,"a":288,"r":0.36},{"i":19,"j":43,"a":252,"r":0.36},{"i":19,"j":7,"a":108,"r":0.36},{"i":31,"j":7,"a":72,"r":0.36},
{"i":43,"j":33,"a":336,"r":0.34},{"i":7,"j":33,"a":204,"r":0.34},{"i":7,"j":17,"a":156,"r":0.34},{"i":43,"j":17,"a":24,"r":0.34},
{"i":33,"j":43,"a":294,"r":0.34},{"i":17,"j":43,"a":246,"r":0.34},{"i":17,"j":7,"a":114,"r":0.34},{"i":33,"j":7,"a":66,"r":0.34},
{"i":45,"j":27,"a":354,"r":0.33},{"i":5,"j":27,"a":186,"r":0.33},{"i":5,"j":23,"a":174,"r":0.33},{"i":45,"j":23,"a":6,"r":0.33},
{"i":27,"j":45,"a":276,"r":0.33},{"i":23,"j":45,"a":264,"r":0.33},{"i":23,"j":5,"a":96,"r":0.33},{"i":27,"j":5,"a":84,"r":0.33},
{"i":45,"j":29,"a":349,"r":0.32},{"i":5,"j":29,"a":191,"r":0.32},{"i":5,"j":21,"a":169,"r":0.32},{"i":45,"j":21,"a":11,"r":0.32},
{"i":29,"j":45,"a":281,"r":0.32},{"i":21,"j":45,"a":259,"r":0.32},{"i":21,"j":5,"a":101,"r":0.32},{"i":29,"j":5,"a":79,"r":0.32}
]},
"mark":{"type":"point","filled":true,"opacity":1,"fill":"#000000","stroke":"#000000","strokeWidth":0.8,"clip":true,"shape":"M-.03,0L-.03,-.7L-.12,-.7L0,-1L.12,-.7L.03,-.7L.03,0Z"},
"encoding":{"x":{"field":"i","type":"quantitative"},"y":{"field":"j","type":"quantitative"},"size":{"field":"r","type":"quantitative","legend":null},"angle":{"field":"a","type":"quantitative","scale":null}}},
{"data":{"values":[{"x":53.5,"x2":59.7,"y":6,"y2":6.5}]},"mark":{"type":"rect","color":"#d95319"},"encoding":{"x":{"field":"x","type":"quantitative"},"x2":{"field":"x2"},"y":{"field":"y","type":"quantitative"},"y2":{"field":"y2"}}},
{"data":{"values":[{"x":56.6,"y":4.87,"t":"0.5mm"}]},"mark":{"type":"text","font":"Liberation Sans","fontSize":35,"color":"#000000","baseline":"middle"},"encoding":{"x":{"field":"x","type":"quantitative"},"y":{"field":"y","type":"quantitative"},"text":{"field":"t"}}},
{"data":{"values":[{"x":84.1,"y":24.7,"t":"μm/min"}]},"mark":{"type":"text","font":"Liberation Sans","fontSize":50,"color":"#262626","angle":270,"baseline":"middle","clip":false},"encoding":{"x":{"field":"x","type":"quantitative"},"y":{"field":"y","type":"quantitative"},"text":{"field":"t"}}},
{"data":{"values":[{"x":35.85,"y":-12.93,"t":"("},{"x":40.27,"y":-12.93,"t":")"}]},"mark":{"type":"text","font":"Liberation Serif","fontSize":80,"color":"#000000","baseline":"alphabetic"},"encoding":{"x":{"field":"x","type":"quantitative"},"y":{"field":"y","type":"quantitative"},"text":{"field":"t"}}},
{"data":{"values":[{"x":37.94,"y":-12.93,"t":"b"}]},"mark":{"type":"text","font":"Liberation Serif","fontWeight":"bold","fontSize":80,"color":"#000000","baseline":"alphabetic"},"encoding":{"x":{"field":"x","type":"quantitative"},"y":{"field":"y","type":"quantitative"},"text":{"field":"t"}}}
]}
]}
